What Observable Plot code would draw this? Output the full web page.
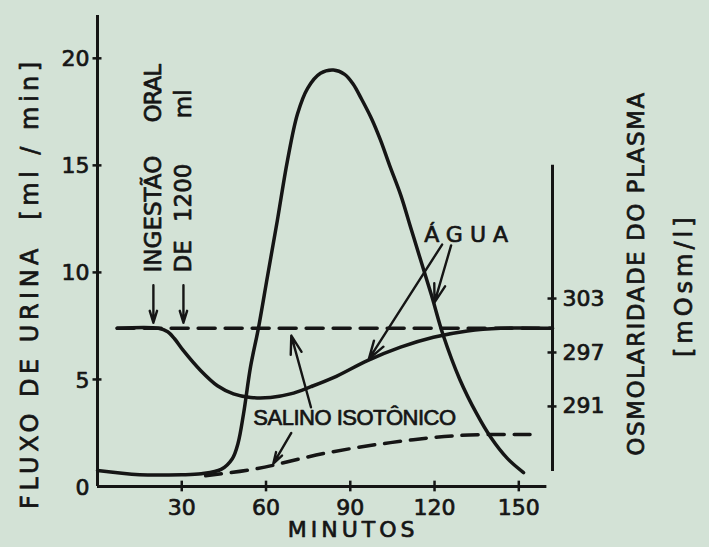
<!DOCTYPE html>
<html><head><meta charset="utf-8">
<script src="https://cdn.jsdelivr.net/npm/d3@7"></script>
<script src="https://cdn.jsdelivr.net/npm/@observablehq/plot@0.6"></script>
<style>html,body{margin:0;padding:0;background:#d3e2d6;}</style>
</head><body><div id="chart"></div>
<script>
// Fluxo de urina (ml/min) — ingestão de água
const minutosAgua = [0, 15, 30, 37, 44, 48, 50, 52, 54.5, 57.3, 60.5, 64, 67.6, 71.2, 74.8, 79.4, 84, 88, 91, 94, 97.5, 100.7, 104, 108, 111.5, 115, 119, 123, 129, 135, 140, 146, 151.7];
const fluxoAgua   = [0.75, 0.55, 0.55, 0.6, 0.8, 1.3, 2.0, 3.4, 5.6, 7.4, 9.8, 12.4, 15.2, 17.4, 18.6, 19.3, 19.45, 19.25, 18.8, 18.1, 17.2, 16.2, 15.0, 13.6, 12.1, 10.6, 8.9, 7.1, 5.0, 3.4, 2.3, 1.3, 0.65];
// Fluxo de urina — salino isotônico
const minutosSalino = [38.5, 57, 80.5, 104.3, 128.2, 154];
const fluxoSalino   = [0.5, 0.84, 1.54, 2.05, 2.38, 2.43];
// Osmolaridade do plasma (mOsm/l) — água
const minutosOsmAgua = [7, 21.7, 25, 27.5, 30.6, 36.7, 42.7, 48.4, 54.5, 61.6, 68.7, 76, 84, 96.1, 107.9, 119.6, 131.7, 143.5, 162];
const osmAgua        = [299.7, 299.7, 299.3, 298.5, 297.2, 295.0, 293.3, 292.4, 292.0, 292.0, 292.4, 293.2, 294.2, 296.1, 297.6, 298.7, 299.4, 299.7, 299.7];
// Osmolaridade do plasma — salino isotônico
const minutosOsmSalino = [7, 162];
const osmSalino        = [299.7, 299.7];

const xTicks = [30, 60, 90, 120, 150];
const yTicks = [0, 5, 10, 15, 20];
const osmTicks = [303, 297, 291];
const ingestaoMinutos = [19.9, 30.6];

// secondary (right) axis: mOsm/l expressed on the flow scale
const osmDomain = [291, 303];
const osmOnFlow = [3.74, 8.78];
const osmToFlow = d3.scaleLinear().domain(osmDomain).range(osmOnFlow);

const agua = minutosAgua.map((t, i) => ({t, v: fluxoAgua[i]}));
const salino = minutosSalino.map((t, i) => ({t, v: fluxoSalino[i]}));
const osmA = minutosOsmAgua.map((t, i) => ({t, v: osmToFlow(osmAgua[i])}));
const osmS = minutosOsmSalino.map((t, i) => ({t, v: osmToFlow(osmSalino[i])}));

const ink = "#151515";
const F = "DejaVu Sans";
const T = {fill: ink, stroke: ink, strokeWidth: 0.7};
const A = {stroke: ink, strokeWidth: 2.4, headLength: 12, headAngle: 34};
const R = {rotate: -90, textAnchor: "start", fontSize: 23, ...T};

const chart = Plot.plot({
  width: 709, height: 547,
  marginLeft: 97, marginRight: 157, marginTop: 15, marginBottom: 61,
  x: {domain: [0, 162], axis: null},
  y: {domain: [0, 22], axis: null},
  style: {background: "#d3e2d6", fontFamily: F, color: ink},
  marks: [
    // axes
    Plot.ruleX([0], {y1: 0, y2: 22, stroke: ink, strokeWidth: 3}),
    Plot.ruleY([0], {x1: 0, x2: 160, stroke: ink, strokeWidth: 3}),
    Plot.ruleX([162], {y1: 0.7, y2: 15, stroke: ink, strokeWidth: 3}),
    Plot.ruleY(yTicks.filter(d => d > 0), {x1: -1.6, x2: 1.6, stroke: ink, strokeWidth: 2.5}),
    Plot.ruleX(xTicks, {y1: -0.25, y2: 0.25, stroke: ink, strokeWidth: 2.5}),
    Plot.ruleY(osmTicks, {y: d => osmToFlow(d), x1: 160.4, x2: 163.6, stroke: ink, strokeWidth: 2.5}),
    // tick labels
    Plot.text(yTicks, {x: 0, y: d => d, text: d => String(d), dx: -8, dy: 1, textAnchor: "end", fontSize: 22, ...T}),
    Plot.text(xTicks, {x: d => d, y: 0, text: d => String(d), dy: 21, fontSize: 22, ...T}),
    Plot.text(osmTicks, {x: 162, y: d => osmToFlow(d), text: d => String(d), dx: 10, textAnchor: "start", fontSize: 22, ...T}),
    // curves
    Plot.line(osmS, {x: "t", y: "v", stroke: ink, strokeWidth: 3.5, strokeDasharray: "17,10"}),
    Plot.line(salino, {x: "t", y: "v", stroke: ink, strokeWidth: 3.5, strokeDasharray: "16,10", curve: "catmull-rom"}),
    Plot.line(osmA, {x: "t", y: "v", stroke: ink, strokeWidth: 3.5, curve: "catmull-rom"}),
    Plot.line(agua, {x: "t", y: "v", stroke: ink, strokeWidth: 3.5, curve: "catmull-rom"}),
    // arrows
    Plot.arrow(ingestaoMinutos, {x1: d => d, x2: d => d, y1: 9.4, y2: 7.65, ...A}),
    Plot.arrow([0], {x1: 122.7, y1: 11.3, x2: 96.6, y2: 5.95, ...A}),
    Plot.arrow([0], {x1: 125.9, y1: 11.26, x2: 120, y2: 8.6, ...A}),
    Plot.arrow([0], {x1: 76, y1: 3.7, x2: 69, y2: 7.05, ...A}),
    Plot.arrow([0], {x1: 69, y1: 2.5, x2: 62.6, y2: 1.07, ...A}),
    // annotations
    Plot.text(["INGESTÃO"], {x: 19.9, y: 10.0, text: d => d, ...R}),
    Plot.text(["ORAL"], {x: 19.9, y: 17.0, text: d => d, ...R}),
    Plot.text(["DE"], {x: 30.6, y: 10.0, text: d => d, ...R}),
    Plot.text(["1200"], {x: 30.6, y: 12.35, text: d => d, ...R}),
    Plot.text(["ml"], {x: 30.6, y: 17.2, text: d => d, ...R}),
    Plot.text(["ÁGUA"], {x: 132.5, y: 11.75, text: d => d, fontSize: 22, ...T}),
    Plot.text(["SALINO ISOTÔNICO"], {x: 91.5, y: 3.2, text: d => d, fontSize: 22, fontFamily: "Liberation Sans", ...T}),
    // axis titles
    Plot.text(["FLUXO DE URINA  [ml / min]"], {x: -24, y: 9.5, text: d => d, rotate: -90, fontSize: 24, ...T}),
    Plot.text(["MINUTOS"], {x: 91, y: -2.05, text: d => d, fontSize: 22, ...T}),
    Plot.text(["OSMOLARIDADE DO PLASMA"], {x: 192, y: 9.95, text: d => d, rotate: -90, fontSize: 23, ...T}),
    Plot.text(["[mOsm/l]"], {x: 209, y: 9.4, text: d => d, rotate: -90, fontSize: 24, ...T})
  ]
});
document.getElementById("chart").appendChild(chart);
const spacing = {
  "INGESTÃO": 0, "ORAL": -1, "ÁGUA": 7, "SALINO ISOTÔNICO": -0.5,
  "FLUXO DE URINA  [ml / min]": 4.5, "MINUTOS": 4, "OSMOLARIDADE DO PLASMA": 1.5, "[mOsm/l]": 4
};
d3.select(chart).selectAll("text").each(function() {
  const s = spacing[this.textContent];
  if (s !== undefined) this.setAttribute("letter-spacing", s + "px");
});
</script>
</body></html>
